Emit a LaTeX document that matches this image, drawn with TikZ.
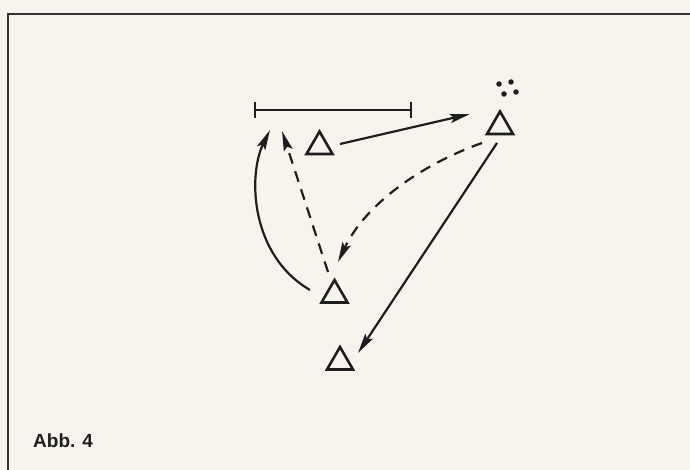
\documentclass[tikz,border=0pt]{standalone}
\usepackage{fontspec}
\setmainfont{Liberation Sans}
\usetikzlibrary{arrows.meta,shapes.geometric}
\definecolor{paper}{HTML}{F7F4EE}
\definecolor{ink}{HTML}{1E1E1E}
\definecolor{frameink}{HTML}{333333}
\begin{document}
\begin{tikzpicture}[x=1pt,y=-1pt,
  tri/.style={draw=ink, line width=2.6pt, regular polygon, regular polygon sides=3,
              minimum size=30pt, inner sep=0pt},
  con/.style={draw=ink, line width=2.2pt, -{Stealth[length=20pt,width=9pt,inset=3.5pt]}},
  dsh/.style={con, dash pattern=on 11pt off 8pt},
  dotnode/.style={circle, fill=ink, inner sep=0pt, minimum size=5.5pt},
  bar/.style={draw=ink, line width=2.2pt}]
  % paper and bounding box
  \fill[paper] (0,0) rectangle (690,470);
  \useasboundingbox (0,0) rectangle (690,470);
  % frame (top and left edges)
  \draw[frameink, line width=2.2pt] (8,470) -- (8,14) -- (690,14);

  % bar with end ticks
  \coordinate (bl) at (255,110);
  \coordinate (br) at (411,110);
  \draw[bar] (bl) -- (br);
  \draw[bar] ([yshift=-8pt]bl) -- ([yshift=8pt]bl);
  \draw[bar] ([yshift=-8pt]br) -- ([yshift=8pt]br);

  % triangles
  \node[tri] (t1) at (319.5,146.5) {};
  \node[tri] (t2) at (500,126.5) {};
  \node[tri] (t3) at (334.5,295) {};
  \node[tri] (t4) at (340,362) {};

  % dots (ball)
  \node[dotnode] (d1) at (499,84) {};
  \node[dotnode] (d2) at (511,82) {};
  \node[dotnode] (d3) at (504,94) {};
  \node[dotnode] (d4) at (516,92) {};

  % connector end points
  \coordinate (a1s) at (340,144);
  \coordinate (a1e) at (470,114);
  \coordinate (a2s) at (497,143);
  \coordinate (a2e) at (358,353);
  \coordinate (a3s) at (482,143);
  \coordinate (a3e) at (338,262);
  \coordinate (a4s) at (328,272);
  \coordinate (a4e) at (282,131);
  \coordinate (a5s) at (310,290);
  \coordinate (a5e) at (270,130);

  % connectors
  \draw[con] (a1s) -- (a1e);
  \draw[con] (a2s) -- (a2e);
  \draw[dsh] (a3s) .. controls (420,165) and (365,205) .. (a3e);
  \draw[dsh] (a4s) -- (a4e);
  \draw[con] (a5s) .. controls (250,255) and (248,175) .. (a5e);

  % caption
  \node[anchor=base west, inner sep=0pt, text=ink,
        font=\bfseries\fontsize{19}{22}\selectfont] (cap) at (33,447) {Abb. 4};
\end{tikzpicture}
\end{document}
